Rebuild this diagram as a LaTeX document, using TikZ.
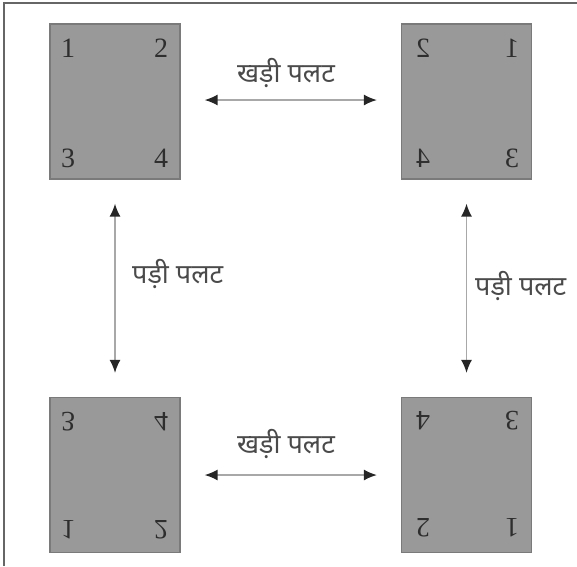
\documentclass[tikz,border=0pt]{standalone}
\usepackage{fontspec}
\setmainfont{Liberation Serif}
\newfontfamily\devfont[Script=Devanagari]{Noto Sans}
\usetikzlibrary{arrows.meta,calc}
\definecolor{pagegray}{HTML}{999999}
\definecolor{pageedge}{HTML}{7A7A7A}
\definecolor{labelgray}{HTML}{4A4A4A}
\definecolor{linegray}{HTML}{A8A8A8}
\definecolor{framegray}{HTML}{666666}
\definecolor{numdark}{HTML}{2E2E2E}
\tikzset{
  page/.style={draw=pageedge, line width=1.2pt, fill=pagegray, minimum width=130pt, minimum height=155pt, inner sep=0pt},
  num/.style={font=\fontsize{28}{28}\selectfont, text=numdark, inner sep=0pt},
  fliplabel/.style={font=\devfont\fontsize{27}{30}\selectfont, text=labelgray, inner sep=0pt},
  flip/.style={draw=linegray, line width=1.6pt, {Latex[length=13pt,width=11pt,color=black!85]}-{Latex[length=13pt,width=11pt,color=black!85]}, shorten <=24pt, shorten >=24pt}
}
\begin{document}
\begin{tikzpicture}[x=1pt,y=-1pt]
\useasboundingbox (0,0) rectangle (577,566);
% open frame: top and left edges only
\draw[framegray, line width=2pt] (4,566) -- (4,3) -- (577,3);

% the four page positions
\node[page] (tl) at (115,101.5) {};
\node[page] (tr) at (466.5,101.5) {};
\node[page] (bl) at (115,475) {};
\node[page] (br) at (466.5,475) {};

% original page
\node[num] (tl1) at (68,48) {1};
\node[num] (tl2) at (161,48) {2};
\node[num] (tl3) at (68,158) {3};
\node[num] (tl4) at (161,158) {4};

% mirrored left to right
\node[num, xscale=-1] (tr2) at (423,48) {2};
\node[num, xscale=-1] (tr1) at (512,48) {1};
\node[num, xscale=-1] (tr4) at (423,158) {4};
\node[num, xscale=-1] (tr3) at (512,158) {3};

% mirrored top to bottom
\node[num, yscale=-1] (bl3) at (68,422) {3};
\node[num, yscale=-1] (bl4) at (161,422) {4};
\node[num, yscale=-1] (bl1) at (68,530) {1};
\node[num, yscale=-1] (bl2) at (161,530) {2};

% turned half round
\node[num, rotate=180] (br4) at (423,421) {4};
\node[num, rotate=180] (br3) at (512,421) {3};
\node[num, rotate=180] (br2) at (423,528) {2};
\node[num, rotate=180] (br1) at (512,528) {1};

% flips between positions
\draw[flip] ($(tl.east)+(0,-1.5)$) -- ($(tr.west)+(0,-1.5)$);
\draw[flip] (bl.east) -- (br.west);
\draw[flip] (tl.south) -- (bl.north);
\draw[flip] (tr.south) -- (br.north);

\node[fliplabel] (ltop) at (286,73) {खड़ी पलट};
\node[fliplabel] (lbot) at (286,444) {खड़ी पलट};
\node[fliplabel, anchor=west] (lleft) at (132,274) {पड़ी पलट};
\node[fliplabel, anchor=west] (lright) at (475,286) {पड़ी पलट};
\end{tikzpicture}
\end{document}
